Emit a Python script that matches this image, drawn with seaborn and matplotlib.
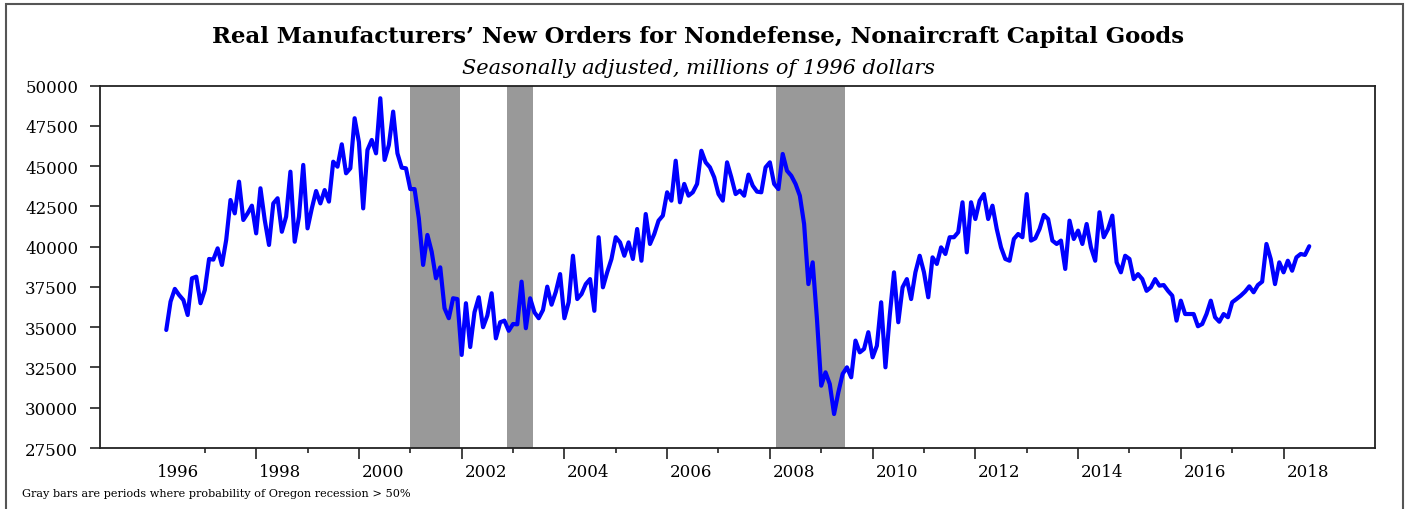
import matplotlib
matplotlib.use("Agg")
import matplotlib.pyplot as plt
from matplotlib.patches import Rectangle
import pandas as pd
import seaborn as sns

# monthly values, April 1996 .. July 2018 (millions of 1996 dollars)
orders = [
    34830, 36590, 37380, 37000, 36690, 35760, 38040, 38140, 36490, 37310, 39240, 39200,
    39900, 38870, 40420, 42900, 42070, 44040, 41660, 42070, 42550, 40830, 43630, 41660,
    40110, 42690, 43010, 40930, 41870, 44660, 40310, 41870, 45080, 41140, 42380, 43460,
    42690, 43520, 42800, 45280, 44970, 46360, 44560, 44870, 47980,
    46500, 42380, 46010, 46630, 45800, 49220, 45390, 46320, 48390, 45800, 44910, 44870,
    43580, 43580, 41760, 38870, 40730, 39690, 38040, 38720, 36180, 35560, 36800, 36750,
    33280, 36490, 33770, 35930, 36860, 35000, 35720, 37110, 34310, 35310, 35410, 34780,
    35200, 35180, 37830, 34940, 36800, 35930, 35560, 36070, 37520, 36400,
    37200, 38300, 35560, 36550, 39440, 36750, 37060, 37680, 37990, 36020, 40590, 37480,
    38410, 39240, 40590, 40270, 39440, 40270, 39240, 41100, 39130, 42030, 40170, 40790,
    41620, 41930, 43380, 42860, 45340, 42760, 43900, 43170, 43380, 43900, 45960, 45240,
    44930, 44310, 43270, 42860, 45240, 44310, 43270, 43480, 43170, 44480,
    43790, 43420, 43380, 44930, 45240, 43900, 43580, 45760, 44720, 44410, 43900, 43170,
    41410, 37680, 39030, 35510, 31370, 32200, 31470, 29610, 30960, 32100, 32510, 31890,
    34170, 33440, 33650, 34690, 33130, 33850, 36550, 32510, 35720, 38410, 35310, 37480,
    37990, 36750, 38410, 39440, 38410, 36860, 39340, 38930, 39960, 39550,
    40590, 40590, 40900, 42760, 39650, 42760, 41720, 42860, 43270, 41720, 42550, 41100,
    39960, 39240, 39130, 40480, 40790, 40590, 43270, 40380, 40520, 41100, 41970, 41720,
    40380, 40170, 40380, 38620, 41620, 40480, 41000, 40170, 41410, 39960, 39130, 42140,
    40590, 41100, 41930, 39030, 38410, 39440, 39240, 37990, 38300,
    37990, 37260, 37480, 37990, 37580, 37620, 37260, 36960, 35410, 36650, 35820, 35820,
    35820, 35060, 35200, 35820, 36650, 35620, 35340, 35820, 35620, 36550, 36750, 36960,
    37210, 37540, 37170, 37620, 37830, 40170, 39240, 37680, 39030, 38410, 39130, 38510,
    39340, 39550, 39490, 40030,
]
start_month = "1996-04-01"

# Oregon recession probability > 50% (decimal years)
rec_start = [2001.00, 2002.88, 2008.12]
rec_end = [2001.96, 2003.39, 2009.46]

label_years = list(range(1996, 2019, 2))
long_ticks = list(range(1998, 2019, 2))
short_ticks = list(range(1997, 2018, 2))
y_ticks = list(range(27500, 50001, 2500))

dates = pd.date_range(start_month, periods=len(orders), freq="MS")
df = pd.DataFrame({"year": dates.year + (dates.month - 1) / 12, "orders": orders})

sns.set_style("ticks")
plt.rcParams["font.family"] = ["DejaVu Serif"]
plt.rcParams["text.color"] = "black"
plt.rcParams["xtick.color"] = "#222222"
plt.rcParams["ytick.color"] = "#222222"
plt.rcParams["xtick.labelcolor"] = "black"
plt.rcParams["ytick.labelcolor"] = "black"

fig = plt.figure(figsize=(14.13, 5.10), dpi=100)
ax = fig.add_axes([100 / 1413, 1 - 449 / 510, 1275 / 1413, (449 - 86.7) / 510])

for s, e in zip(rec_start, rec_end):
    ax.axvspan(s, e, color="#999999", lw=0, zorder=1)

sns.lineplot(data=df, x="year", y="orders", ax=ax, color="#0000ff", lw=3, zorder=3)

ax.set_xlim(1994.96, 2019.78)
ax.set_ylim(27500, 50000)
ax.set_xlabel("")
ax.set_ylabel("")

ax.set_yticks(y_ticks)
ax.set_yticklabels([str(v) for v in y_ticks])
ax.tick_params(axis="y", length=7.2, width=1.2, pad=8.5, labelsize=12)

ax.set_xticks(long_ticks)
ax.set_xticklabels([])
ax.set_xticks(short_ticks, minor=True)
ax.tick_params(axis="x", which="major", length=8, width=1.2)
ax.tick_params(axis="x", which="minor", length=3.6, width=1.2)

for yr in label_years:
    ax.annotate(str(yr), xy=(yr + 0.47, 0), xycoords=("data", "axes fraction"),
                xytext=(0, -28), textcoords="offset pixels",
                ha="center", va="baseline", fontsize=12, color="black")

for sp in ax.spines.values():
    sp.set_visible(True)
    sp.set_linewidth(1.3)
    sp.set_color("#222222")

fig.text(0.494, 1 - 43 / 510,
         "Real Manufacturers\u2019 New Orders for Nondefense, Nonaircraft Capital Goods",
         ha="center", va="baseline", fontsize=16.4, fontweight="bold")
fig.text(0.494, 1 - 74 / 510, "Seasonally adjusted, millions of 1996 dollars",
         ha="center", va="baseline", fontsize=15, style="italic")
fig.text(22 / 1413, 1 - 497 / 510,
         "Gray bars are periods where probability of Oregon recession > 50%",
         ha="left", va="baseline", fontsize=8.15)

fig.patches.append(Rectangle((6 / 1413, -0.01), 1397 / 1413, 1.01 - 4.5 / 510,
                             transform=fig.transFigure, fill=False,
                             edgecolor="#555555", lw=1.5))

fig.savefig("out.png", dpi=100)
